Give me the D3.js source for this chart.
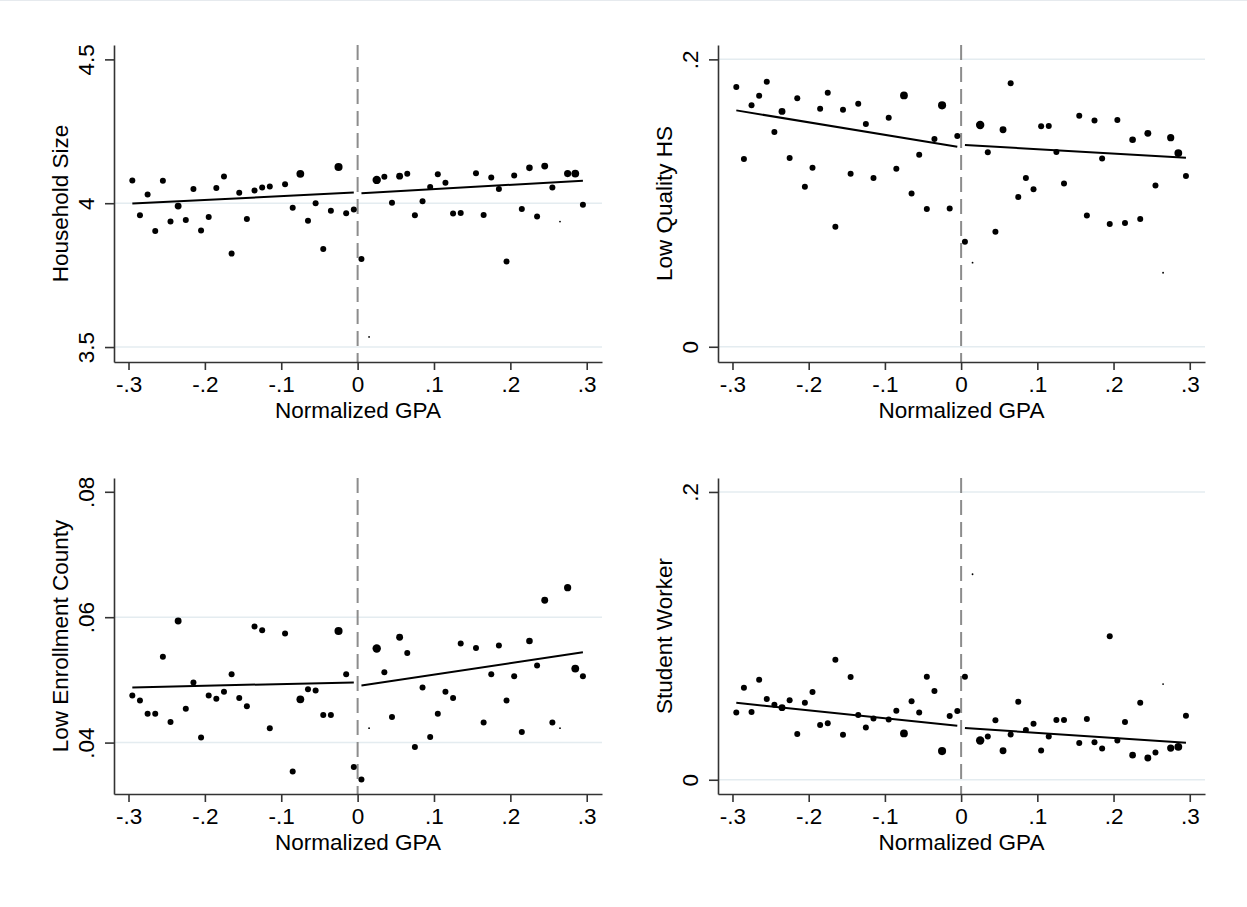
<!DOCTYPE html>
<html>
<head>
<meta charset="utf-8">
<script src="https://cdn.jsdelivr.net/npm/d3@7"></script>
<style>
  html, body { margin: 0; padding: 0; background: #fff; }
  svg { display: block; }
  text { font-family: "Liberation Sans", Arial, Helvetica, sans-serif; fill: #000; }
</style>
</head>
<body>
<svg id="chart" width="1247" height="907"></svg>
<script>
// ---- Data ----
const xLeft = [-0.295,-0.285,-0.275,-0.265,-0.255,-0.245,-0.235,-0.225,-0.215,-0.205,-0.195,-0.185,-0.175,-0.165,-0.155,-0.145,-0.135,-0.125,-0.115,-0.095,-0.085,-0.075,-0.065,-0.055,-0.045,-0.035,-0.025,-0.015,-0.005];
const xRight = [0.005,0.015,0.025,0.035,0.045,0.055,0.065,0.075,0.085,0.095,0.105,0.115,0.125,0.135,0.155,0.165,0.175,0.185,0.195,0.205,0.215,0.225,0.235,0.245,0.255,0.265,0.275,0.285,0.295];

// relative marker weights (bin counts)
const wLeft  = [1,1,1,1,1,1,1.15,1,1,1,1,1,1,1,1,1,1,1,1,1,1,1.3,1,1,1,1,1.35,1,1];
const wRight = [1,0.3,1.4,1,1,1.15,1,1,1,1,1,1,1,1,1,1,1,1,1,1,1,1.1,1,1.15,1,0.3,1.2,1.3,1];

const xTicks = [-0.3,-0.2,-0.1,0,0.1,0.2,0.3];
const xTickLabels = ["-.3","-.2","-.1","0",".1",".2",".3"];
const xTitle = "Normalized GPA";

// Panel 1: Household Size
const hhLeft  = [4.079,3.958,4.030,3.903,4.078,3.936,3.990,3.942,4.049,3.905,3.952,4.053,4.093,3.825,4.036,3.945,4.044,4.055,4.058,4.066,3.984,4.102,3.939,4.000,3.841,3.974,4.126,3.965,3.978];
const hhRight = [3.806,3.535,4.081,4.092,4.002,4.094,4.102,3.958,4.007,4.056,4.101,4.071,3.964,3.966,4.104,3.959,4.089,4.049,3.797,4.096,3.980,4.123,3.954,4.129,4.055,3.936,4.103,4.103,3.995];
const hhFitLeft = [3.999, 4.037];
const hhFitRight = [4.035, 4.078];
const hhTicks = [3.5, 4, 4.5];
const hhTickLabels = ["3.5","4","4.5"];

// Panel 2: Low Quality HS
const lqLeft  = [.1807,.1306,.1680,.1747,.1845,.1494,.1638,.1313,.1729,.1114,.1246,.1657,.1768,.0835,.1650,.1204,.1691,.1550,.1174,.1594,.1239,.1749,.1067,.1336,.0958,.1445,.1680,.0963,.1466];
const lqRight = [.0731,.0585,.1543,.1353,.0800,.1510,.1833,.1042,.1174,.1097,.1534,.1536,.1355,.1137,.1608,.0914,.1575,.1311,.0854,.1578,.0861,.1441,.0889,.1485,.1123,.0515,.1455,.1348,.1188];
const lqFitLeft = [.1645, .1392];
const lqFitRight = [.1404, .1316];
const lqTicks = [0, 0.2];
const lqTickLabels = ["0", ".2"];

// Panel 3: Low Enrollment County
const leLeft  = [.0475,.0467,.0446,.0446,.0537,.0433,.0594,.0454,.0496,.0408,.0475,.0470,.0481,.0509,.0471,.0458,.0585,.0579,.0423,.0574,.0354,.0469,.0485,.0483,.0444,.0444,.0578,.0509,.0361];
const leRight = [.0341,.0423,.0550,.0512,.0441,.0568,.0543,.0393,.0488,.0409,.0446,.0481,.0471,.0558,.0551,.0432,.0509,.0555,.0467,.0506,.0417,.0562,.0523,.0627,.0432,.0423,.0647,.0518,.0506];
const leFitLeft = [.0488, .0496];
const leFitRight = [.0491, .0544];
const leTicks = [0.04, 0.06, 0.08];
const leTickLabels = [".04", ".06", ".08"];

// Panel 4: Student Worker
const swLeft  = [.0468,.0640,.0470,.0695,.0561,.0521,.0501,.0552,.0318,.0535,.0609,.0380,.0392,.0834,.0313,.0714,.0450,.0364,.0426,.0419,.0480,.0322,.0545,.0468,.0716,.0616,.0199,.0443,.0477];
const swRight = [.0716,.1428,.0273,.0301,.0413,.0202,.0315,.0542,.0345,.0389,.0204,.0301,.0415,.0415,.0255,.0422,.0260,.0218,.0997,.0273,.0401,.0171,.0535,.0151,.0190,.0665,.0220,.0229,.0445];
const swFitLeft = [.0535, .0375];
const swFitRight = [.0359, .0257];
const swTicks = [0, 0.2];
const swTickLabels = ["0", ".2"];

const fitXLeft = [-0.295, -0.005];
const fitXRight = [0.005, 0.295];

// ---- Layout ----
const svg = d3.select("#chart");
svg.append("line").attr("x1",0).attr("x2",1247).attr("y1",0.5).attr("y2",0.5)
  .attr("stroke","#e6eaee").attr("stroke-width",1);

const panels = [
  {left:114, right:602, top:45, bottom:362, yDomain:[3.448,4.55], ticks:hhTicks, labels:hhTickLabels, grid:[3.5,4], title:"Household Size",
   yl:hhLeft, yr:hhRight, fl:hhFitLeft, fr:hhFitRight},
  {left:718, right:1205, top:45, bottom:362, yDomain:[-0.0106,0.21], ticks:lqTicks, labels:lqTickLabels, grid:[0,0.2], title:"Low Quality HS",
   yl:lqLeft, yr:lqRight, fl:lqFitLeft, fr:lqFitRight},
  {left:114, right:602, top:478, bottom:794, yDomain:[0.0318,0.0822], ticks:leTicks, labels:leTickLabels, grid:[0.04,0.06], title:"Low Enrollment County",
   yl:leLeft, yr:leRight, fl:leFitLeft, fr:leFitRight},
  {left:718, right:1205, top:478, bottom:794, yDomain:[-0.0099,0.2097], ticks:swTicks, labels:swTickLabels, grid:[0,0.2], title:"Student Worker",
   yl:swLeft, yr:swRight, fl:swFitLeft, fr:swFitRight}
];

const baseR = 3;
const fontSize = 22.5;
const fontFam = '"Liberation Sans", Arial, Helvetica, sans-serif';

panels.forEach(p => {
  const x = d3.scaleLinear().domain([-0.319, 0.320]).range([p.left, p.right]);
  const y = d3.scaleLinear().domain(p.yDomain).range([p.bottom, p.top]);
  const g = svg.append("g");

  // gridlines
  g.selectAll("line.grid").data(p.grid).enter().append("line")
    .attr("x1", p.left).attr("x2", p.right)
    .attr("y1", d => y(d)).attr("y2", d => y(d))
    .attr("stroke", "#e4ecf0").attr("stroke-width", 1.5);

  // dashed cutoff line
  g.append("line")
    .attr("x1", x(0)).attr("x2", x(0))
    .attr("y1", p.top).attr("y2", p.bottom)
    .attr("stroke", "#8c8c8c").attr("stroke-width", 2)
    .attr("stroke-dasharray", "15,7");

  // x axis
  const xAxis = d3.axisBottom(x).tickValues(xTicks)
    .tickFormat((d,i) => xTickLabels[i]).tickSize(8).tickPadding(6).tickSizeOuter(0);
  const xg = g.append("g").attr("transform", `translate(0,${p.bottom})`).call(xAxis);
  xg.select(".domain").attr("stroke", "#333").attr("stroke-width", 1.6);
  xg.selectAll(".tick line").attr("stroke", "#333").attr("stroke-width", 1.6);
  xg.selectAll(".tick text").style("font-size", fontSize + "px")
    .style("font-family", fontFam).attr("fill", "#000");

  // y axis
  const yAxis = d3.axisLeft(y).tickValues(p.ticks)
    .tickFormat((d,i) => p.labels[i]).tickSize(9).tickSizeOuter(0);
  const yg = g.append("g").attr("transform", `translate(${p.left},0)`).call(yAxis);
  yg.select(".domain").attr("stroke", "#333").attr("stroke-width", 1.6);
  yg.selectAll(".tick line").attr("stroke", "#333").attr("stroke-width", 1.6);
  yg.selectAll(".tick text")
    .attr("x", null).attr("dy", null)
    .attr("text-anchor", "middle")
    .attr("transform", "translate(-20,0) rotate(-90)")
    .attr("y", 0)
    .style("font-size", fontSize + "px")
    .style("font-family", fontFam).attr("fill", "#000");

  // axis titles
  g.append("text")
    .attr("x", (p.left + p.right) / 2).attr("y", p.bottom + 56)
    .attr("text-anchor", "middle").style("font-size", fontSize + "px")
    .text(xTitle);
  g.append("text")
    .attr("transform", `translate(${p.left - 46},${(p.top + p.bottom) / 2}) rotate(-90)`)
    .attr("text-anchor", "middle").style("font-size", fontSize + "px")
    .text(p.title);

  // fit lines
  const line = d3.line().x(d => x(d[0])).y(d => y(d[1]));
  g.append("path").datum(fitXLeft.map((xv,i) => [xv, p.fl[i]]))
    .attr("d", line).attr("fill","none").attr("stroke","#000").attr("stroke-width",2);
  g.append("path").datum(fitXRight.map((xv,i) => [xv, p.fr[i]]))
    .attr("d", line).attr("fill","none").attr("stroke","#000").attr("stroke-width",2);

  // points
  const pts = xLeft.map((xv,i) => ({x:xv, y:p.yl[i], w:wLeft[i]}))
    .concat(xRight.map((xv,i) => ({x:xv, y:p.yr[i], w:wRight[i]})));
  g.selectAll("circle").data(pts).enter().append("circle")
    .attr("cx", d => x(d.x)).attr("cy", d => y(d.y))
    .attr("r", d => baseR * d.w)
    .attr("fill", "#000");
});
</script>
</body>
</html>
